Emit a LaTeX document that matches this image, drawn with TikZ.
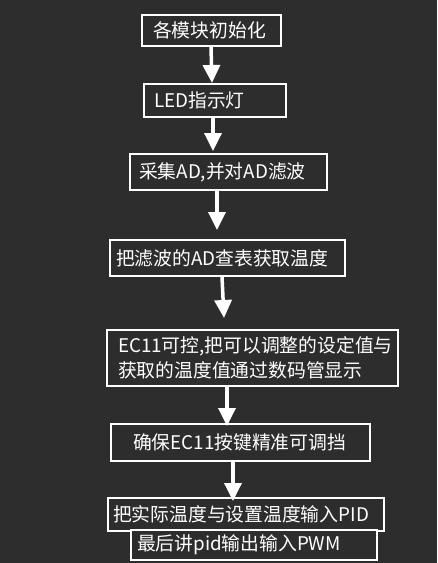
\documentclass[tikz,border=0pt]{standalone}
\usepackage{fontspec}
\setmainfont{Noto Sans CJK SC}
\usetikzlibrary{arrows.meta}
\definecolor{bg}{HTML}{2D2D2D}
\begin{document}
\begin{tikzpicture}[x=1pt,y=-1pt,
  box/.style={draw=white, line width=2pt, fill=bg, text=white, align=left,
    font=\fontsize{18.8}{24.5}\selectfont, inner ysep=0pt, anchor=center},
  arr/.style={draw=white, line width=3.5pt, -{Triangle[length=18pt,width=17pt]}}]
\fill[bg] (0,0) rectangle (437,563);
\useasboundingbox (0,0) rectangle (437,563);
\node[box, minimum width=139pt, minimum height=31pt, text width=117pt, inner xsep=11pt] (b1) at (211.5,30.5) {各模块初始化};
\node[box, minimum width=142pt, minimum height=33pt, text width=122pt, inner xsep=10pt] (b2) at (215,100.5) {LED指示灯};
\node[box, minimum width=197pt, minimum height=36pt, text width=179pt, inner xsep=9pt] (b3) at (228.5,172) {采集AD,并对AD滤波};
\node[box, minimum width=235pt, minimum height=36pt, text width=223pt, inner xsep=6pt] (b4) at (227.5,258) {把滤波的AD查表获取温度};
\node[box, minimum width=291pt, minimum height=56pt, text width=269pt, inner xsep=11pt] (b5) at (252.5,358) {EC11可控,把可以调整的设定值与\\获取的温度值通过数码管显示};
\node[box, minimum width=259pt, minimum height=37pt, text width=215pt, inner xsep=22pt] (b6) at (240.5,442.5) {确保EC11按键精准可调挡};
\node[box, minimum width=276pt, minimum height=33pt, text width=266pt, inner xsep=5pt] (b7) at (246,514.5) {把实际温度与设置温度输入PID};
\node[box, minimum width=246pt, minimum height=30pt, text width=234pt, inner xsep=6pt] (b8) at (254,545) {最后讲pid输出输入PWM};
\draw[arr] ([xshift=-0.5pt]b1.south) -- ([xshift=-3pt]b2.north);
\draw[arr] ([xshift=-2pt]b2.south) -- ([xshift=-15.5pt,yshift=2pt]b3.north);
\draw[arr] ([xshift=-11.5pt]b3.south) -- ([xshift=-10.5pt,yshift=9pt]b4.north);
\draw[arr] ([xshift=-5.5pt]b4.south) -- ([xshift=-28.5pt,yshift=11pt]b5.north);
\draw[arr] ([xshift=-25.5pt]b5.south) -- ([xshift=-13.5pt,yshift=-3pt]b6.north);
\draw[arr] ([xshift=-7.5pt]b6.south) -- ([xshift=-13pt,yshift=-4pt]b7.north);
\end{tikzpicture}
\end{document}
